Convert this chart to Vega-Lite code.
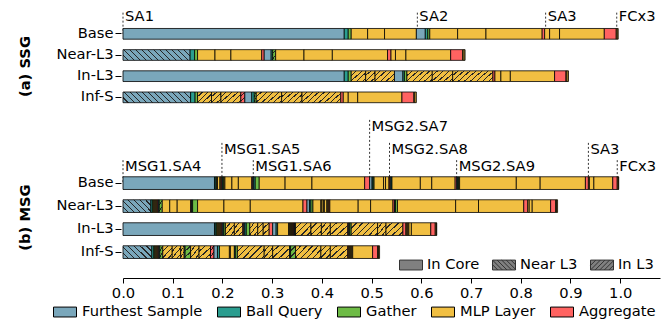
{
"$schema": "https://vega.github.io/schema/vega-lite/v6.json",
"padding": {"left": 17, "top": 8, "right": 5, "bottom": 2},
"config": {
 "font": "DejaVu Sans",
 "view": {"stroke": null},
 "axis": {"grid": false, "labelColor": "black", "titleColor": "black", "labelFontSize": 14.7, "titleFontSize": 14.7, "tickColor": "black", "domainColor": "black"}
},
"datasets": {
"ann": [
 {"p":"SSG","r":"L1","n":"SA1","x":0},
 {"p":"SSG","r":"L1","n":"SA2","x":0.592},
 {"p":"SSG","r":"L1","n":"SA3","x":0.850},
 {"p":"SSG","r":"L1","n":"FCx3","x":0.993},
 {"p":"MSG","r":"L1","n":"MSG1.SA4","x":0},
 {"p":"MSG","r":"L2","n":"MSG1.SA5","x":0.199},
 {"p":"MSG","r":"L1","n":"MSG1.SA6","x":0.262},
 {"p":"MSG","r":"L3","n":"MSG2.SA7","x":0.496},
 {"p":"MSG","r":"L2","n":"MSG2.SA8","x":0.536},
 {"p":"MSG","r":"L1","n":"MSG2.SA9","x":0.671},
 {"p":"MSG","r":"L2","n":"SA3","x":0.936},
 {"p":"MSG","r":"L1","n":"FCx3","x":0.994}
],
"segs": [
 {"p":"SSG","r":"Base","s":0,"e":0.445,"c":"Furthest Sample","t":"In Core"},
 {"p":"SSG","r":"Base","s":0.445,"e":0.453,"c":"Ball Query","t":"In Core"},
 {"p":"SSG","r":"Base","s":0.453,"e":0.459,"c":"Gather","t":"In Core"},
 {"p":"SSG","r":"Base","s":0.459,"e":0.492,"c":"MLP Layer","t":"In Core"},
 {"p":"SSG","r":"Base","s":0.492,"e":0.526,"c":"MLP Layer","t":"In Core"},
 {"p":"SSG","r":"Base","s":0.526,"e":0.590,"c":"MLP Layer","t":"In Core"},
 {"p":"SSG","r":"Base","s":0.590,"e":0.608,"c":"Furthest Sample","t":"In Core"},
 {"p":"SSG","r":"Base","s":0.608,"e":0.613,"c":"Ball Query","t":"In Core"},
 {"p":"SSG","r":"Base","s":0.613,"e":0.617,"c":"Gather","t":"In Core"},
 {"p":"SSG","r":"Base","s":0.617,"e":0.673,"c":"MLP Layer","t":"In Core"},
 {"p":"SSG","r":"Base","s":0.673,"e":0.730,"c":"MLP Layer","t":"In Core"},
 {"p":"SSG","r":"Base","s":0.730,"e":0.843,"c":"MLP Layer","t":"In Core"},
 {"p":"SSG","r":"Base","s":0.843,"e":0.848,"c":"Aggregate","t":"In Core"},
 {"p":"SSG","r":"Base","s":0.848,"e":0.858,"c":"MLP Layer","t":"In Core"},
 {"p":"SSG","r":"Base","s":0.858,"e":0.878,"c":"MLP Layer","t":"In Core"},
 {"p":"SSG","r":"Base","s":0.878,"e":0.968,"c":"MLP Layer","t":"In Core"},
 {"p":"SSG","r":"Base","s":0.968,"e":0.992,"c":"Aggregate","t":"In Core"},
 {"p":"SSG","r":"Base","s":0.992,"e":0.994,"c":"MLP Layer","t":"In Core"},
 {"p":"SSG","r":"Base","s":0.994,"e":0.996,"c":"MLP Layer","t":"In Core"},

 {"p":"SSG","r":"Near-L3","s":0,"e":0.135,"c":"Furthest Sample","t":"Near L3"},
 {"p":"SSG","r":"Near-L3","s":0.135,"e":0.144,"c":"Ball Query","t":"In Core"},
 {"p":"SSG","r":"Near-L3","s":0.144,"e":0.150,"c":"Gather","t":"In Core"},
 {"p":"SSG","r":"Near-L3","s":0.150,"e":0.185,"c":"MLP Layer","t":"In Core"},
 {"p":"SSG","r":"Near-L3","s":0.185,"e":0.217,"c":"MLP Layer","t":"In Core"},
 {"p":"SSG","r":"Near-L3","s":0.217,"e":0.279,"c":"MLP Layer","t":"In Core"},
 {"p":"SSG","r":"Near-L3","s":0.279,"e":0.284,"c":"Aggregate","t":"In Core"},
 {"p":"SSG","r":"Near-L3","s":0.284,"e":0.298,"c":"Furthest Sample","t":"In Core"},
 {"p":"SSG","r":"Near-L3","s":0.298,"e":0.301,"c":"Ball Query","t":"In Core"},
 {"p":"SSG","r":"Near-L3","s":0.301,"e":0.307,"c":"Gather","t":"In L3"},
 {"p":"SSG","r":"Near-L3","s":0.307,"e":0.364,"c":"MLP Layer","t":"In Core"},
 {"p":"SSG","r":"Near-L3","s":0.364,"e":0.421,"c":"MLP Layer","t":"In Core"},
 {"p":"SSG","r":"Near-L3","s":0.421,"e":0.532,"c":"MLP Layer","t":"In Core"},
 {"p":"SSG","r":"Near-L3","s":0.532,"e":0.539,"c":"Aggregate","t":"In Core"},
 {"p":"SSG","r":"Near-L3","s":0.539,"e":0.548,"c":"MLP Layer","t":"In Core"},
 {"p":"SSG","r":"Near-L3","s":0.548,"e":0.569,"c":"MLP Layer","t":"In Core"},
 {"p":"SSG","r":"Near-L3","s":0.569,"e":0.659,"c":"MLP Layer","t":"In Core"},
 {"p":"SSG","r":"Near-L3","s":0.659,"e":0.683,"c":"Aggregate","t":"In Core"},
 {"p":"SSG","r":"Near-L3","s":0.683,"e":0.686,"c":"MLP Layer","t":"In Core"},
 {"p":"SSG","r":"Near-L3","s":0.686,"e":0.688,"c":"MLP Layer","t":"In Core"},

 {"p":"SSG","r":"In-L3","s":0,"e":0.445,"c":"Furthest Sample","t":"In Core"},
 {"p":"SSG","r":"In-L3","s":0.445,"e":0.453,"c":"Ball Query","t":"In Core"},
 {"p":"SSG","r":"In-L3","s":0.453,"e":0.459,"c":"Gather","t":"In Core"},
 {"p":"SSG","r":"In-L3","s":0.459,"e":0.488,"c":"MLP Layer","t":"In L3"},
 {"p":"SSG","r":"In-L3","s":0.488,"e":0.507,"c":"MLP Layer","t":"In L3"},
 {"p":"SSG","r":"In-L3","s":0.507,"e":0.546,"c":"MLP Layer","t":"In L3"},
 {"p":"SSG","r":"In-L3","s":0.546,"e":0.563,"c":"Furthest Sample","t":"In Core"},
 {"p":"SSG","r":"In-L3","s":0.563,"e":0.566,"c":"Ball Query","t":"In Core"},
 {"p":"SSG","r":"In-L3","s":0.566,"e":0.571,"c":"Gather","t":"In Core"},
 {"p":"SSG","r":"In-L3","s":0.571,"e":0.622,"c":"MLP Layer","t":"In L3"},
 {"p":"SSG","r":"In-L3","s":0.622,"e":0.663,"c":"MLP Layer","t":"In L3"},
 {"p":"SSG","r":"In-L3","s":0.663,"e":0.744,"c":"MLP Layer","t":"In L3"},
 {"p":"SSG","r":"In-L3","s":0.744,"e":0.748,"c":"Aggregate","t":"In Core"},
 {"p":"SSG","r":"In-L3","s":0.748,"e":0.760,"c":"MLP Layer","t":"In Core"},
 {"p":"SSG","r":"In-L3","s":0.760,"e":0.779,"c":"MLP Layer","t":"In Core"},
 {"p":"SSG","r":"In-L3","s":0.779,"e":0.868,"c":"MLP Layer","t":"In Core"},
 {"p":"SSG","r":"In-L3","s":0.868,"e":0.891,"c":"Aggregate","t":"In Core"},
 {"p":"SSG","r":"In-L3","s":0.891,"e":0.893,"c":"MLP Layer","t":"In Core"},
 {"p":"SSG","r":"In-L3","s":0.893,"e":0.896,"c":"MLP Layer","t":"In Core"},

 {"p":"SSG","r":"Inf-S","s":0,"e":0.136,"c":"Furthest Sample","t":"Near L3"},
 {"p":"SSG","r":"Inf-S","s":0.136,"e":0.145,"c":"Ball Query","t":"In Core"},
 {"p":"SSG","r":"Inf-S","s":0.145,"e":0.150,"c":"Gather","t":"In Core"},
 {"p":"SSG","r":"Inf-S","s":0.150,"e":0.178,"c":"MLP Layer","t":"In L3"},
 {"p":"SSG","r":"Inf-S","s":0.178,"e":0.197,"c":"MLP Layer","t":"In L3"},
 {"p":"SSG","r":"Inf-S","s":0.197,"e":0.237,"c":"MLP Layer","t":"In L3"},
 {"p":"SSG","r":"Inf-S","s":0.237,"e":0.245,"c":"Aggregate","t":"In L3"},
 {"p":"SSG","r":"Inf-S","s":0.245,"e":0.259,"c":"Furthest Sample","t":"In Core"},
 {"p":"SSG","r":"Inf-S","s":0.259,"e":0.264,"c":"Ball Query","t":"In Core"},
 {"p":"SSG","r":"Inf-S","s":0.264,"e":0.268,"c":"Gather","t":"In L3"},
 {"p":"SSG","r":"Inf-S","s":0.268,"e":0.319,"c":"MLP Layer","t":"In L3"},
 {"p":"SSG","r":"Inf-S","s":0.319,"e":0.360,"c":"MLP Layer","t":"In L3"},
 {"p":"SSG","r":"Inf-S","s":0.360,"e":0.438,"c":"MLP Layer","t":"In L3"},
 {"p":"SSG","r":"Inf-S","s":0.438,"e":0.443,"c":"Aggregate","t":"In Core"},
 {"p":"SSG","r":"Inf-S","s":0.443,"e":0.453,"c":"MLP Layer","t":"In Core"},
 {"p":"SSG","r":"Inf-S","s":0.453,"e":0.472,"c":"MLP Layer","t":"In Core"},
 {"p":"SSG","r":"Inf-S","s":0.472,"e":0.561,"c":"MLP Layer","t":"In Core"},
 {"p":"SSG","r":"Inf-S","s":0.561,"e":0.585,"c":"Aggregate","t":"In Core"},
 {"p":"SSG","r":"Inf-S","s":0.585,"e":0.587,"c":"MLP Layer","t":"In Core"},
 {"p":"SSG","r":"Inf-S","s":0.587,"e":0.590,"c":"MLP Layer","t":"In Core"},

 {"p":"MSG","r":"Base","s":0,"e":0.184,"c":"Furthest Sample","t":"In Core"},
 {"p":"MSG","r":"Base","s":0.184,"e":0.187,"c":"Ball Query","t":"In Core"},
 {"p":"MSG","r":"Base","s":0.187,"e":0.1885,"c":"Gather","t":"In Core"},
 {"p":"MSG","r":"Base","s":0.1885,"e":0.190,"c":"MLP Layer","t":"In Core"},
 {"p":"MSG","r":"Base","s":0.190,"e":0.195,"c":"MLP Layer","t":"In Core"},
 {"p":"MSG","r":"Base","s":0.195,"e":0.197,"c":"MLP Layer","t":"In Core"},
 {"p":"MSG","r":"Base","s":0.197,"e":0.199,"c":"Aggregate","t":"In Core"},
 {"p":"MSG","r":"Base","s":0.199,"e":0.201,"c":"Ball Query","t":"In Core"},
 {"p":"MSG","r":"Base","s":0.201,"e":0.203,"c":"Gather","t":"In Core"},
 {"p":"MSG","r":"Base","s":0.203,"e":0.205,"c":"MLP Layer","t":"In Core"},
 {"p":"MSG","r":"Base","s":0.205,"e":0.219,"c":"MLP Layer","t":"In Core"},
 {"p":"MSG","r":"Base","s":0.219,"e":0.232,"c":"MLP Layer","t":"In Core"},
 {"p":"MSG","r":"Base","s":0.232,"e":0.259,"c":"MLP Layer","t":"In Core"},
 {"p":"MSG","r":"Base","s":0.259,"e":0.261,"c":"Aggregate","t":"In Core"},
 {"p":"MSG","r":"Base","s":0.261,"e":0.263,"c":"Furthest Sample","t":"In Core"},
 {"p":"MSG","r":"Base","s":0.263,"e":0.266,"c":"Ball Query","t":"In Core"},
 {"p":"MSG","r":"Base","s":0.266,"e":0.274,"c":"Gather","t":"In Core"},
 {"p":"MSG","r":"Base","s":0.274,"e":0.326,"c":"MLP Layer","t":"In Core"},
 {"p":"MSG","r":"Base","s":0.326,"e":0.380,"c":"MLP Layer","t":"In Core"},
 {"p":"MSG","r":"Base","s":0.380,"e":0.486,"c":"MLP Layer","t":"In Core"},
 {"p":"MSG","r":"Base","s":0.486,"e":0.496,"c":"Aggregate","t":"In Core"},
 {"p":"MSG","r":"Base","s":0.496,"e":0.501,"c":"Furthest Sample","t":"In Core"},
 {"p":"MSG","r":"Base","s":0.501,"e":0.503,"c":"Ball Query","t":"In Core"},
 {"p":"MSG","r":"Base","s":0.503,"e":0.505,"c":"Gather","t":"In Core"},
 {"p":"MSG","r":"Base","s":0.505,"e":0.524,"c":"MLP Layer","t":"In Core"},
 {"p":"MSG","r":"Base","s":0.524,"e":0.528,"c":"MLP Layer","t":"In Core"},
 {"p":"MSG","r":"Base","s":0.528,"e":0.535,"c":"MLP Layer","t":"In Core"},
 {"p":"MSG","r":"Base","s":0.535,"e":0.537,"c":"Aggregate","t":"In Core"},
 {"p":"MSG","r":"Base","s":0.537,"e":0.539,"c":"Furthest Sample","t":"In Core"},
 {"p":"MSG","r":"Base","s":0.539,"e":0.541,"c":"Ball Query","t":"In Core"},
 {"p":"MSG","r":"Base","s":0.541,"e":0.598,"c":"MLP Layer","t":"In Core"},
 {"p":"MSG","r":"Base","s":0.598,"e":0.621,"c":"MLP Layer","t":"In Core"},
 {"p":"MSG","r":"Base","s":0.621,"e":0.668,"c":"MLP Layer","t":"In Core"},
 {"p":"MSG","r":"Base","s":0.668,"e":0.671,"c":"Aggregate","t":"In Core"},
 {"p":"MSG","r":"Base","s":0.671,"e":0.673,"c":"Furthest Sample","t":"In Core"},
 {"p":"MSG","r":"Base","s":0.673,"e":0.675,"c":"Ball Query","t":"In Core"},
 {"p":"MSG","r":"Base","s":0.675,"e":0.677,"c":"Gather","t":"In Core"},
 {"p":"MSG","r":"Base","s":0.677,"e":0.791,"c":"MLP Layer","t":"In Core"},
 {"p":"MSG","r":"Base","s":0.791,"e":0.839,"c":"MLP Layer","t":"In Core"},
 {"p":"MSG","r":"Base","s":0.839,"e":0.930,"c":"MLP Layer","t":"In Core"},
 {"p":"MSG","r":"Base","s":0.930,"e":0.936,"c":"Aggregate","t":"In Core"},
 {"p":"MSG","r":"Base","s":0.936,"e":0.938,"c":"MLP Layer","t":"In Core"},
 {"p":"MSG","r":"Base","s":0.938,"e":0.947,"c":"MLP Layer","t":"In Core"},
 {"p":"MSG","r":"Base","s":0.947,"e":0.985,"c":"MLP Layer","t":"In Core"},
 {"p":"MSG","r":"Base","s":0.985,"e":0.994,"c":"Aggregate","t":"In Core"},
 {"p":"MSG","r":"Base","s":0.994,"e":0.996,"c":"MLP Layer","t":"In Core"},
 {"p":"MSG","r":"Base","s":0.996,"e":0.997,"c":"MLP Layer","t":"In Core"},

 {"p":"MSG","r":"Near-L3","s":0,"e":0.056,"c":"Furthest Sample","t":"Near L3"},
 {"p":"MSG","r":"Near-L3","s":0.056,"e":0.059,"c":"Ball Query","t":"In Core"},
 {"p":"MSG","r":"Near-L3","s":0.059,"e":0.061,"c":"Gather","t":"In Core"},
 {"p":"MSG","r":"Near-L3","s":0.061,"e":0.063,"c":"MLP Layer","t":"In Core"},
 {"p":"MSG","r":"Near-L3","s":0.063,"e":0.065,"c":"MLP Layer","t":"In Core"},
 {"p":"MSG","r":"Near-L3","s":0.065,"e":0.067,"c":"MLP Layer","t":"In Core"},
 {"p":"MSG","r":"Near-L3","s":0.067,"e":0.069,"c":"MLP Layer","t":"In Core"},
 {"p":"MSG","r":"Near-L3","s":0.069,"e":0.071,"c":"Aggregate","t":"In Core"},
 {"p":"MSG","r":"Near-L3","s":0.071,"e":0.073,"c":"Ball Query","t":"In Core"},
 {"p":"MSG","r":"Near-L3","s":0.073,"e":0.079,"c":"Gather","t":"In L3"},
 {"p":"MSG","r":"Near-L3","s":0.079,"e":0.094,"c":"MLP Layer","t":"In Core"},
 {"p":"MSG","r":"Near-L3","s":0.094,"e":0.109,"c":"MLP Layer","t":"In Core"},
 {"p":"MSG","r":"Near-L3","s":0.109,"e":0.136,"c":"MLP Layer","t":"In Core"},
 {"p":"MSG","r":"Near-L3","s":0.136,"e":0.138,"c":"Aggregate","t":"In Core"},
 {"p":"MSG","r":"Near-L3","s":0.138,"e":0.140,"c":"Ball Query","t":"In Core"},
 {"p":"MSG","r":"Near-L3","s":0.140,"e":0.150,"c":"Gather","t":"In Core"},
 {"p":"MSG","r":"Near-L3","s":0.150,"e":0.203,"c":"MLP Layer","t":"In Core"},
 {"p":"MSG","r":"Near-L3","s":0.203,"e":0.256,"c":"MLP Layer","t":"In Core"},
 {"p":"MSG","r":"Near-L3","s":0.256,"e":0.362,"c":"MLP Layer","t":"In Core"},
 {"p":"MSG","r":"Near-L3","s":0.362,"e":0.370,"c":"Aggregate","t":"In Core"},
 {"p":"MSG","r":"Near-L3","s":0.370,"e":0.375,"c":"Furthest Sample","t":"In Core"},
 {"p":"MSG","r":"Near-L3","s":0.375,"e":0.378,"c":"Ball Query","t":"In Core"},
 {"p":"MSG","r":"Near-L3","s":0.378,"e":0.382,"c":"Gather","t":"In Core"},
 {"p":"MSG","r":"Near-L3","s":0.382,"e":0.398,"c":"MLP Layer","t":"In Core"},
 {"p":"MSG","r":"Near-L3","s":0.398,"e":0.400,"c":"MLP Layer","t":"In Core"},
 {"p":"MSG","r":"Near-L3","s":0.400,"e":0.403,"c":"MLP Layer","t":"In Core"},
 {"p":"MSG","r":"Near-L3","s":0.403,"e":0.405,"c":"MLP Layer","t":"In Core"},
 {"p":"MSG","r":"Near-L3","s":0.405,"e":0.410,"c":"MLP Layer","t":"In Core"},
 {"p":"MSG","r":"Near-L3","s":0.410,"e":0.412,"c":"MLP Layer","t":"In Core"},
 {"p":"MSG","r":"Near-L3","s":0.412,"e":0.414,"c":"MLP Layer","t":"In Core"},
 {"p":"MSG","r":"Near-L3","s":0.414,"e":0.416,"c":"Aggregate","t":"In Core"},
 {"p":"MSG","r":"Near-L3","s":0.416,"e":0.473,"c":"MLP Layer","t":"In Core"},
 {"p":"MSG","r":"Near-L3","s":0.473,"e":0.498,"c":"MLP Layer","t":"In Core"},
 {"p":"MSG","r":"Near-L3","s":0.498,"e":0.543,"c":"MLP Layer","t":"In Core"},
 {"p":"MSG","r":"Near-L3","s":0.543,"e":0.546,"c":"Aggregate","t":"In Core"},
 {"p":"MSG","r":"Near-L3","s":0.546,"e":0.548,"c":"Ball Query","t":"In Core"},
 {"p":"MSG","r":"Near-L3","s":0.548,"e":0.552,"c":"Gather","t":"In Core"},
 {"p":"MSG","r":"Near-L3","s":0.552,"e":0.669,"c":"MLP Layer","t":"In Core"},
 {"p":"MSG","r":"Near-L3","s":0.669,"e":0.715,"c":"MLP Layer","t":"In Core"},
 {"p":"MSG","r":"Near-L3","s":0.715,"e":0.806,"c":"MLP Layer","t":"In Core"},
 {"p":"MSG","r":"Near-L3","s":0.806,"e":0.814,"c":"Aggregate","t":"In Core"},
 {"p":"MSG","r":"Near-L3","s":0.814,"e":0.817,"c":"MLP Layer","t":"In Core"},
 {"p":"MSG","r":"Near-L3","s":0.817,"e":0.823,"c":"MLP Layer","t":"In Core"},
 {"p":"MSG","r":"Near-L3","s":0.823,"e":0.860,"c":"MLP Layer","t":"In Core"},
 {"p":"MSG","r":"Near-L3","s":0.860,"e":0.870,"c":"Aggregate","t":"In Core"},
 {"p":"MSG","r":"Near-L3","s":0.870,"e":0.872,"c":"MLP Layer","t":"In Core"},
 {"p":"MSG","r":"Near-L3","s":0.872,"e":0.874,"c":"MLP Layer","t":"In Core"},

 {"p":"MSG","r":"In-L3","s":0,"e":0.184,"c":"Furthest Sample","t":"In Core"},
 {"p":"MSG","r":"In-L3","s":0.184,"e":0.187,"c":"Ball Query","t":"In Core"},
 {"p":"MSG","r":"In-L3","s":0.187,"e":0.189,"c":"Gather","t":"In Core"},
 {"p":"MSG","r":"In-L3","s":0.189,"e":0.191,"c":"MLP Layer","t":"In Core"},
 {"p":"MSG","r":"In-L3","s":0.191,"e":0.193,"c":"MLP Layer","t":"In Core"},
 {"p":"MSG","r":"In-L3","s":0.193,"e":0.195,"c":"MLP Layer","t":"In Core"},
 {"p":"MSG","r":"In-L3","s":0.195,"e":0.197,"c":"MLP Layer","t":"In Core"},
 {"p":"MSG","r":"In-L3","s":0.197,"e":0.199,"c":"Aggregate","t":"In Core"},
 {"p":"MSG","r":"In-L3","s":0.199,"e":0.201,"c":"Furthest Sample","t":"In Core"},
 {"p":"MSG","r":"In-L3","s":0.201,"e":0.203,"c":"Ball Query","t":"In Core"},
 {"p":"MSG","r":"In-L3","s":0.203,"e":0.206,"c":"Gather","t":"In Core"},
 {"p":"MSG","r":"In-L3","s":0.206,"e":0.224,"c":"MLP Layer","t":"In L3"},
 {"p":"MSG","r":"In-L3","s":0.224,"e":0.241,"c":"MLP Layer","t":"In L3"},
 {"p":"MSG","r":"In-L3","s":0.241,"e":0.243,"c":"Aggregate","t":"In Core"},
 {"p":"MSG","r":"In-L3","s":0.243,"e":0.245,"c":"Furthest Sample","t":"In Core"},
 {"p":"MSG","r":"In-L3","s":0.245,"e":0.248,"c":"Ball Query","t":"In Core"},
 {"p":"MSG","r":"In-L3","s":0.248,"e":0.255,"c":"Gather","t":"In Core"},
 {"p":"MSG","r":"In-L3","s":0.255,"e":0.271,"c":"MLP Layer","t":"In L3"},
 {"p":"MSG","r":"In-L3","s":0.271,"e":0.282,"c":"MLP Layer","t":"In L3"},
 {"p":"MSG","r":"In-L3","s":0.282,"e":0.294,"c":"MLP Layer","t":"In L3"},
 {"p":"MSG","r":"In-L3","s":0.294,"e":0.301,"c":"Aggregate","t":"In Core"},
 {"p":"MSG","r":"In-L3","s":0.301,"e":0.308,"c":"Furthest Sample","t":"In Core"},
 {"p":"MSG","r":"In-L3","s":0.308,"e":0.311,"c":"Ball Query","t":"In Core"},
 {"p":"MSG","r":"In-L3","s":0.311,"e":0.333,"c":"MLP Layer","t":"In Core"},
 {"p":"MSG","r":"In-L3","s":0.333,"e":0.335,"c":"MLP Layer","t":"In Core"},
 {"p":"MSG","r":"In-L3","s":0.335,"e":0.337,"c":"MLP Layer","t":"In Core"},
 {"p":"MSG","r":"In-L3","s":0.337,"e":0.339,"c":"MLP Layer","t":"In Core"},
 {"p":"MSG","r":"In-L3","s":0.339,"e":0.341,"c":"MLP Layer","t":"In Core"},
 {"p":"MSG","r":"In-L3","s":0.341,"e":0.343,"c":"MLP Layer","t":"In Core"},
 {"p":"MSG","r":"In-L3","s":0.343,"e":0.345,"c":"Aggregate","t":"In Core"},
 {"p":"MSG","r":"In-L3","s":0.345,"e":0.347,"c":"Ball Query","t":"In Core"},
 {"p":"MSG","r":"In-L3","s":0.347,"e":0.378,"c":"MLP Layer","t":"In L3"},
 {"p":"MSG","r":"In-L3","s":0.378,"e":0.399,"c":"MLP Layer","t":"In L3"},
 {"p":"MSG","r":"In-L3","s":0.399,"e":0.417,"c":"MLP Layer","t":"In L3"},
 {"p":"MSG","r":"In-L3","s":0.417,"e":0.452,"c":"MLP Layer","t":"In L3"},
 {"p":"MSG","r":"In-L3","s":0.452,"e":0.454,"c":"Aggregate","t":"In Core"},
 {"p":"MSG","r":"In-L3","s":0.454,"e":0.456,"c":"Ball Query","t":"In Core"},
 {"p":"MSG","r":"In-L3","s":0.456,"e":0.459,"c":"Gather","t":"In Core"},
 {"p":"MSG","r":"In-L3","s":0.459,"e":0.512,"c":"MLP Layer","t":"In L3"},
 {"p":"MSG","r":"In-L3","s":0.512,"e":0.529,"c":"MLP Layer","t":"In L3"},
 {"p":"MSG","r":"In-L3","s":0.529,"e":0.563,"c":"MLP Layer","t":"In L3"},
 {"p":"MSG","r":"In-L3","s":0.563,"e":0.569,"c":"Aggregate","t":"In Core"},
 {"p":"MSG","r":"In-L3","s":0.569,"e":0.571,"c":"MLP Layer","t":"In Core"},
 {"p":"MSG","r":"In-L3","s":0.571,"e":0.573,"c":"MLP Layer","t":"In Core"},
 {"p":"MSG","r":"In-L3","s":0.573,"e":0.575,"c":"MLP Layer","t":"In Core"},
 {"p":"MSG","r":"In-L3","s":0.575,"e":0.580,"c":"MLP Layer","t":"In Core"},
 {"p":"MSG","r":"In-L3","s":0.580,"e":0.619,"c":"MLP Layer","t":"In Core"},
 {"p":"MSG","r":"In-L3","s":0.619,"e":0.628,"c":"Aggregate","t":"In Core"},
 {"p":"MSG","r":"In-L3","s":0.628,"e":0.630,"c":"MLP Layer","t":"In Core"},
 {"p":"MSG","r":"In-L3","s":0.630,"e":0.631,"c":"MLP Layer","t":"In Core"},

 {"p":"MSG","r":"Inf-S","s":0,"e":0.058,"c":"Furthest Sample","t":"Near L3"},
 {"p":"MSG","r":"Inf-S","s":0.058,"e":0.062,"c":"Ball Query","t":"In Core"},
 {"p":"MSG","r":"Inf-S","s":0.062,"e":0.064,"c":"Gather","t":"In Core"},
 {"p":"MSG","r":"Inf-S","s":0.064,"e":0.066,"c":"MLP Layer","t":"In Core"},
 {"p":"MSG","r":"Inf-S","s":0.066,"e":0.068,"c":"MLP Layer","t":"In Core"},
 {"p":"MSG","r":"Inf-S","s":0.068,"e":0.070,"c":"MLP Layer","t":"In Core"},
 {"p":"MSG","r":"Inf-S","s":0.070,"e":0.072,"c":"Aggregate","t":"In Core"},
 {"p":"MSG","r":"Inf-S","s":0.072,"e":0.074,"c":"Ball Query","t":"In Core"},
 {"p":"MSG","r":"Inf-S","s":0.074,"e":0.080,"c":"Gather","t":"In L3"},
 {"p":"MSG","r":"Inf-S","s":0.080,"e":0.099,"c":"MLP Layer","t":"In L3"},
 {"p":"MSG","r":"Inf-S","s":0.099,"e":0.116,"c":"MLP Layer","t":"In L3"},
 {"p":"MSG","r":"Inf-S","s":0.116,"e":0.123,"c":"MLP Layer","t":"In L3"},
 {"p":"MSG","r":"Inf-S","s":0.123,"e":0.125,"c":"Ball Query","t":"In Core"},
 {"p":"MSG","r":"Inf-S","s":0.125,"e":0.136,"c":"Gather","t":"In L3"},
 {"p":"MSG","r":"Inf-S","s":0.136,"e":0.153,"c":"MLP Layer","t":"In L3"},
 {"p":"MSG","r":"Inf-S","s":0.153,"e":0.176,"c":"MLP Layer","t":"In L3"},
 {"p":"MSG","r":"Inf-S","s":0.176,"e":0.183,"c":"Aggregate","t":"In L3"},
 {"p":"MSG","r":"Inf-S","s":0.183,"e":0.190,"c":"Furthest Sample","t":"In Core"},
 {"p":"MSG","r":"Inf-S","s":0.190,"e":0.194,"c":"Ball Query","t":"In Core"},
 {"p":"MSG","r":"Inf-S","s":0.194,"e":0.214,"c":"MLP Layer","t":"In Core"},
 {"p":"MSG","r":"Inf-S","s":0.214,"e":0.216,"c":"MLP Layer","t":"In Core"},
 {"p":"MSG","r":"Inf-S","s":0.216,"e":0.224,"c":"MLP Layer","t":"In Core"},
 {"p":"MSG","r":"Inf-S","s":0.224,"e":0.226,"c":"Ball Query","t":"In Core"},
 {"p":"MSG","r":"Inf-S","s":0.226,"e":0.230,"c":"Gather","t":"In Core"},
 {"p":"MSG","r":"Inf-S","s":0.230,"e":0.284,"c":"MLP Layer","t":"In L3"},
 {"p":"MSG","r":"Inf-S","s":0.284,"e":0.301,"c":"MLP Layer","t":"In L3"},
 {"p":"MSG","r":"Inf-S","s":0.301,"e":0.335,"c":"MLP Layer","t":"In L3"},
 {"p":"MSG","r":"Inf-S","s":0.335,"e":0.337,"c":"Ball Query","t":"In Core"},
 {"p":"MSG","r":"Inf-S","s":0.337,"e":0.347,"c":"Gather","t":"In L3"},
 {"p":"MSG","r":"Inf-S","s":0.347,"e":0.398,"c":"MLP Layer","t":"In L3"},
 {"p":"MSG","r":"Inf-S","s":0.398,"e":0.417,"c":"MLP Layer","t":"In L3"},
 {"p":"MSG","r":"Inf-S","s":0.417,"e":0.452,"c":"MLP Layer","t":"In L3"},
 {"p":"MSG","r":"Inf-S","s":0.452,"e":0.454,"c":"Aggregate","t":"In Core"},
 {"p":"MSG","r":"Inf-S","s":0.454,"e":0.456,"c":"MLP Layer","t":"In Core"},
 {"p":"MSG","r":"Inf-S","s":0.456,"e":0.458,"c":"MLP Layer","t":"In Core"},
 {"p":"MSG","r":"Inf-S","s":0.458,"e":0.460,"c":"MLP Layer","t":"In Core"},
 {"p":"MSG","r":"Inf-S","s":0.460,"e":0.462,"c":"MLP Layer","t":"In Core"},
 {"p":"MSG","r":"Inf-S","s":0.462,"e":0.502,"c":"MLP Layer","t":"In Core"},
 {"p":"MSG","r":"Inf-S","s":0.502,"e":0.512,"c":"Aggregate","t":"In Core"},
 {"p":"MSG","r":"Inf-S","s":0.512,"e":0.514,"c":"MLP Layer","t":"In Core"},
 {"p":"MSG","r":"Inf-S","s":0.514,"e":0.516,"c":"MLP Layer","t":"In Core"}
]
},
"spacing": 13,
"resolve": {"scale": {"y": "independent", "x": "shared", "shape": "independent", "stroke": "independent"}, "legend": {"shape": "independent", "stroke": "independent"}},
"vconcat": [
{
 "width": 537, "height": 90,
 "encoding": {"y": {"field": "r", "type": "nominal",
   "scale": {"domain": ["L1","a3","a2","a1","Base","b1","b2","b3","Near-L3","b4","b5","b6","In-L3","b7","b8","b9","Inf-S"], "paddingInner": 0, "paddingOuter": 0},
   "axis": {"title": "(a) SSG", "values": ["Base","Near-L3","In-L3","Inf-S"], "domain": false, "tickSize": 6, "offset": 2, "labelPadding": 2, "titleFontWeight": "bold", "titleY": 56, "titlePadding": 24}}},
 "layer": [
  {"data": {"name": "ann"}, "transform": [{"filter": "datum.p=='SSG'"}],
   "mark": {"type": "rule", "strokeDash": [2,2], "strokeWidth": 0.8, "color": "black"},
   "encoding": {"x": {"field": "x", "type": "quantitative", "scale": {"domain": [0,1.08], "nice": false}, "axis": null}, "y2": {"datum": "Base"}}},
  {"data": {"name": "segs"}, "transform": [{"filter": "datum.p=='SSG'"}],
   "mark": {"type": "bar", "height": 10.7, "stroke": "black", "strokeWidth": 0.8},
   "encoding": {
    "x": {"field": "s", "type": "quantitative", "scale": {"domain": [0,1.08], "nice": false}, "axis": null},
    "x2": {"field": "e"},
    "fill": {"field": "c", "type": "nominal",
     "scale": {"domain": ["Furthest Sample","Ball Query","Gather","MLP Layer","Aggregate"], "range": ["#7aa7bb","#2a9d8f","#6dbb45","#f1bf42","#ff6361"]},
     "legend": {"title": null, "orient": "none", "legendX": -70, "legendY": 290, "direction": "horizontal", "columns": 5, "symbolType": "M-1,-0.43H1V0.43H-1Z", "symbolSize": 529, "symbolStrokeColor": "black", "symbolStrokeWidth": 1, "labelFontSize": 14.7, "labelColor": "black", "labelOffset": 5, "columnPadding": 12},
     "condition": [
      {"test": "datum.t=='Near L3' && datum.e-datum.s>=0.1", "value": {"gradient": "linear", "x1": 0, "y1": 1, "x2": 1.13, "y2": 0.821, "stops": [{"offset":0,"color":"#7aa7bb"},{"offset":0.06,"color":"#7aa7bb"},{"offset":0.06,"color":"#262626"},{"offset":0.0769,"color":"#262626"},{"offset":0.0769,"color":"#7aa7bb"},{"offset":0.1369,"color":"#7aa7bb"},{"offset":0.1369,"color":"#262626"},{"offset":0.1538,"color":"#262626"},{"offset":0.1538,"color":"#7aa7bb"},{"offset":0.2138,"color":"#7aa7bb"},{"offset":0.2138,"color":"#262626"},{"offset":0.2307,"color":"#262626"},{"offset":0.2307,"color":"#7aa7bb"},{"offset":0.2907,"color":"#7aa7bb"},{"offset":0.2907,"color":"#262626"},{"offset":0.3076,"color":"#262626"},{"offset":0.3076,"color":"#7aa7bb"},{"offset":0.3676,"color":"#7aa7bb"},{"offset":0.3676,"color":"#262626"},{"offset":0.3845,"color":"#262626"},{"offset":0.3845,"color":"#7aa7bb"},{"offset":0.4445,"color":"#7aa7bb"},{"offset":0.4445,"color":"#262626"},{"offset":0.4614,"color":"#262626"},{"offset":0.4614,"color":"#7aa7bb"},{"offset":0.5214,"color":"#7aa7bb"},{"offset":0.5214,"color":"#262626"},{"offset":0.5383,"color":"#262626"},{"offset":0.5383,"color":"#7aa7bb"},{"offset":0.5983,"color":"#7aa7bb"},{"offset":0.5983,"color":"#262626"},{"offset":0.6152,"color":"#262626"},{"offset":0.6152,"color":"#7aa7bb"},{"offset":0.6752,"color":"#7aa7bb"},{"offset":0.6752,"color":"#262626"},{"offset":0.6921,"color":"#262626"},{"offset":0.6921,"color":"#7aa7bb"},{"offset":0.7521,"color":"#7aa7bb"},{"offset":0.7521,"color":"#262626"},{"offset":0.769,"color":"#262626"},{"offset":0.769,"color":"#7aa7bb"},{"offset":0.829,"color":"#7aa7bb"},{"offset":0.829,"color":"#262626"},{"offset":0.8459,"color":"#262626"},{"offset":0.8459,"color":"#7aa7bb"},{"offset":0.9059,"color":"#7aa7bb"},{"offset":0.9059,"color":"#262626"},{"offset":0.9228,"color":"#262626"},{"offset":0.9228,"color":"#7aa7bb"},{"offset":1,"color":"#7aa7bb"}]}},
      {"test": "datum.t=='Near L3'", "value": {"gradient": "linear", "x1": 0, "y1": 1, "x2": 1.2055, "y2": 0.4532, "stops": [{"offset":0,"color":"#7aa7bb"},{"offset":0.1147,"color":"#7aa7bb"},{"offset":0.1147,"color":"#262626"},{"offset":0.1471,"color":"#262626"},{"offset":0.1471,"color":"#7aa7bb"},{"offset":0.2618,"color":"#7aa7bb"},{"offset":0.2618,"color":"#262626"},{"offset":0.2942,"color":"#262626"},{"offset":0.2942,"color":"#7aa7bb"},{"offset":0.4089,"color":"#7aa7bb"},{"offset":0.4089,"color":"#262626"},{"offset":0.4413,"color":"#262626"},{"offset":0.4413,"color":"#7aa7bb"},{"offset":0.556,"color":"#7aa7bb"},{"offset":0.556,"color":"#262626"},{"offset":0.5884,"color":"#262626"},{"offset":0.5884,"color":"#7aa7bb"},{"offset":0.7031,"color":"#7aa7bb"},{"offset":0.7031,"color":"#262626"},{"offset":0.7355,"color":"#262626"},{"offset":0.7355,"color":"#7aa7bb"},{"offset":0.8502,"color":"#7aa7bb"},{"offset":0.8502,"color":"#262626"},{"offset":0.8826,"color":"#262626"},{"offset":0.8826,"color":"#7aa7bb"},{"offset":1,"color":"#7aa7bb"}]}},
      {"test": "datum.t=='In L3' && datum.c=='Gather'", "value": {"gradient": "linear", "x1": 0, "y1": 0, "x2": 0.503, "y2": 1.207, "stops": [{"offset":0,"color":"#6dbb45"},{"offset":0.26,"color":"#6dbb45"},{"offset":0.26,"color":"#262626"},{"offset":0.3333,"color":"#262626"},{"offset":0.3333,"color":"#6dbb45"},{"offset":0.5933,"color":"#6dbb45"},{"offset":0.5933,"color":"#262626"},{"offset":0.6667,"color":"#262626"},{"offset":0.6667,"color":"#6dbb45"},{"offset":0.9267,"color":"#6dbb45"},{"offset":0.9267,"color":"#262626"},{"offset":1,"color":"#262626"}]}},
      {"test": "datum.t=='In L3' && datum.c=='Aggregate'", "value": {"gradient": "linear", "x1": 0, "y1": 0, "x2": 0.503, "y2": 1.207, "stops": [{"offset":0,"color":"#ff6361"},{"offset":0.26,"color":"#ff6361"},{"offset":0.26,"color":"#262626"},{"offset":0.3333,"color":"#262626"},{"offset":0.3333,"color":"#ff6361"},{"offset":0.5933,"color":"#ff6361"},{"offset":0.5933,"color":"#262626"},{"offset":0.6667,"color":"#262626"},{"offset":0.6667,"color":"#ff6361"},{"offset":0.9267,"color":"#ff6361"},{"offset":0.9267,"color":"#262626"},{"offset":1,"color":"#262626"}]}},
      {"test": "datum.t=='In L3' && datum.e-datum.s<0.014", "value": {"gradient": "linear", "x1": 0, "y1": 0, "x2": 0.503, "y2": 1.207, "stops": [{"offset":0,"color":"#f1bf42"},{"offset":0.26,"color":"#f1bf42"},{"offset":0.26,"color":"#262626"},{"offset":0.3333,"color":"#262626"},{"offset":0.3333,"color":"#f1bf42"},{"offset":0.5933,"color":"#f1bf42"},{"offset":0.5933,"color":"#262626"},{"offset":0.6667,"color":"#262626"},{"offset":0.6667,"color":"#f1bf42"},{"offset":0.9267,"color":"#f1bf42"},{"offset":0.9267,"color":"#262626"},{"offset":1,"color":"#262626"}]}},
      {"test": "datum.t=='In L3' && datum.e-datum.s<0.024", "value": {"gradient": "linear", "x1": 0, "y1": 0, "x2": 0.872, "y2": 1.101, "stops": [{"offset":0,"color":"#f1bf42"},{"offset":0.2167,"color":"#f1bf42"},{"offset":0.2167,"color":"#262626"},{"offset":0.2778,"color":"#262626"},{"offset":0.2778,"color":"#f1bf42"},{"offset":0.4944,"color":"#f1bf42"},{"offset":0.4944,"color":"#262626"},{"offset":0.5556,"color":"#262626"},{"offset":0.5556,"color":"#f1bf42"},{"offset":0.7722,"color":"#f1bf42"},{"offset":0.7722,"color":"#262626"},{"offset":0.8333,"color":"#262626"},{"offset":0.8333,"color":"#f1bf42"},{"offset":1,"color":"#f1bf42"}]}},
      {"test": "datum.t=='In L3' && datum.e-datum.s<0.036", "value": {"gradient": "linear", "x1": 0, "y1": 0, "x2": 1.098, "y2": 0.878, "stops": [{"offset":0,"color":"#f1bf42"},{"offset":0.1733,"color":"#f1bf42"},{"offset":0.1733,"color":"#262626"},{"offset":0.2222,"color":"#262626"},{"offset":0.2222,"color":"#f1bf42"},{"offset":0.3956,"color":"#f1bf42"},{"offset":0.3956,"color":"#262626"},{"offset":0.4444,"color":"#262626"},{"offset":0.4444,"color":"#f1bf42"},{"offset":0.6178,"color":"#f1bf42"},{"offset":0.6178,"color":"#262626"},{"offset":0.6667,"color":"#262626"},{"offset":0.6667,"color":"#f1bf42"},{"offset":0.84,"color":"#f1bf42"},{"offset":0.84,"color":"#262626"},{"offset":0.8889,"color":"#262626"},{"offset":0.8889,"color":"#f1bf42"},{"offset":1,"color":"#f1bf42"}]}},
      {"test": "datum.t=='In L3' && datum.e-datum.s<0.046", "value": {"gradient": "linear", "x1": 0, "y1": 0, "x2": 1.181, "y2": 0.691, "stops": [{"offset":0,"color":"#f1bf42"},{"offset":0.1445,"color":"#f1bf42"},{"offset":0.1445,"color":"#262626"},{"offset":0.1852,"color":"#262626"},{"offset":0.1852,"color":"#f1bf42"},{"offset":0.3297,"color":"#f1bf42"},{"offset":0.3297,"color":"#262626"},{"offset":0.3704,"color":"#262626"},{"offset":0.3704,"color":"#f1bf42"},{"offset":0.5149,"color":"#f1bf42"},{"offset":0.5149,"color":"#262626"},{"offset":0.5556,"color":"#262626"},{"offset":0.5556,"color":"#f1bf42"},{"offset":0.7001,"color":"#f1bf42"},{"offset":0.7001,"color":"#262626"},{"offset":0.7407,"color":"#262626"},{"offset":0.7407,"color":"#f1bf42"},{"offset":0.8853,"color":"#f1bf42"},{"offset":0.8853,"color":"#262626"},{"offset":0.9259,"color":"#262626"},{"offset":0.9259,"color":"#f1bf42"},{"offset":1,"color":"#f1bf42"}]}},
      {"test": "datum.t=='In L3' && datum.e-datum.s<0.064", "value": {"gradient": "linear", "x1": 0, "y1": 0, "x2": 1.205, "y2": 0.556, "stops": [{"offset":0,"color":"#f1bf42"},{"offset":0.1238,"color":"#f1bf42"},{"offset":0.1238,"color":"#262626"},{"offset":0.1587,"color":"#262626"},{"offset":0.1587,"color":"#f1bf42"},{"offset":0.2825,"color":"#f1bf42"},{"offset":0.2825,"color":"#262626"},{"offset":0.3175,"color":"#262626"},{"offset":0.3175,"color":"#f1bf42"},{"offset":0.4412,"color":"#f1bf42"},{"offset":0.4412,"color":"#262626"},{"offset":0.4762,"color":"#262626"},{"offset":0.4762,"color":"#f1bf42"},{"offset":0.5999,"color":"#f1bf42"},{"offset":0.5999,"color":"#262626"},{"offset":0.6349,"color":"#262626"},{"offset":0.6349,"color":"#f1bf42"},{"offset":0.7586,"color":"#f1bf42"},{"offset":0.7586,"color":"#262626"},{"offset":0.7937,"color":"#262626"},{"offset":0.7937,"color":"#f1bf42"},{"offset":0.9173,"color":"#f1bf42"},{"offset":0.9173,"color":"#262626"},{"offset":0.9524,"color":"#262626"},{"offset":0.9524,"color":"#f1bf42"},{"offset":1,"color":"#f1bf42"}]}},
      {"test": "datum.t=='In L3'", "value": {"gradient": "linear", "x1": 0, "y1": 0, "x2": 1.193, "y2": 0.358, "stops": [{"offset":0,"color":"#f1bf42"},{"offset":0.0896,"color":"#f1bf42"},{"offset":0.0896,"color":"#262626"},{"offset":0.1149,"color":"#262626"},{"offset":0.1149,"color":"#f1bf42"},{"offset":0.2045,"color":"#f1bf42"},{"offset":0.2045,"color":"#262626"},{"offset":0.2298,"color":"#262626"},{"offset":0.2298,"color":"#f1bf42"},{"offset":0.3194,"color":"#f1bf42"},{"offset":0.3194,"color":"#262626"},{"offset":0.3447,"color":"#262626"},{"offset":0.3447,"color":"#f1bf42"},{"offset":0.4343,"color":"#f1bf42"},{"offset":0.4343,"color":"#262626"},{"offset":0.4596,"color":"#262626"},{"offset":0.4596,"color":"#f1bf42"},{"offset":0.5492,"color":"#f1bf42"},{"offset":0.5492,"color":"#262626"},{"offset":0.5745,"color":"#262626"},{"offset":0.5745,"color":"#f1bf42"},{"offset":0.6641,"color":"#f1bf42"},{"offset":0.6641,"color":"#262626"},{"offset":0.6894,"color":"#262626"},{"offset":0.6894,"color":"#f1bf42"},{"offset":0.779,"color":"#f1bf42"},{"offset":0.779,"color":"#262626"},{"offset":0.8043,"color":"#262626"},{"offset":0.8043,"color":"#f1bf42"},{"offset":0.8939,"color":"#f1bf42"},{"offset":0.8939,"color":"#262626"},{"offset":0.9192,"color":"#262626"},{"offset":0.9192,"color":"#f1bf42"},{"offset":1,"color":"#f1bf42"}]}}
     ]}
   }},
  {"data": {"name": "ann"}, "transform": [{"filter": "datum.p=='SSG'"}],
   "mark": {"type": "text", "align": "left", "baseline": "top", "dx": 2, "dy": -4, "fontSize": 14.7, "color": "black"},
   "encoding": {"x": {"field": "x", "type": "quantitative", "scale": {"domain": [0,1.08], "nice": false}, "axis": null}, "text": {"field": "n"}}}
 ]
},
{
 "width": 537, "height": 161,
 "encoding": {"y": {"field": "r", "type": "nominal",
   "scale": {"domain": ["L3","c10","c9","c8","L2","c6","c5","L1","c3","c2","c1","Base","d1","d2","d3","Near-L3","d4","d5","d6","In-L3","d7","d8","d9","Inf-S","f1","f2","f3","f4"], "paddingInner": 0, "paddingOuter": 0},
   "axis": {"title": "(b) MSG", "values": ["Base","Near-L3","In-L3","Inf-S"], "domain": false, "tickSize": 6, "offset": 2, "labelPadding": 2, "titleFontWeight": "bold", "titleY": 100, "titlePadding": 24}}},
 "layer": [
  {"data": {"name": "ann"}, "transform": [{"filter": "datum.p=='MSG'"}],
   "mark": {"type": "rule", "strokeDash": [2,2], "strokeWidth": 0.8, "color": "black"},
   "encoding": {"x": {"field": "x", "type": "quantitative", "scale": {"domain": [0,1.08], "nice": false},
      "axis": {"title": null, "values": [0,0.1,0.2,0.3,0.4,0.5,0.6,0.7,0.8,0.9,1.0], "format": ".1f", "tickSize": 5, "labelPadding": 2, "domainWidth": 1, "tickWidth": 1, "labelFlush": false}}, "y2": {"datum": "Base"}}},
  {"data": {"name": "segs"}, "transform": [{"filter": "datum.p=='MSG'"}],
   "mark": {"type": "bar", "height": 12.7, "stroke": "black", "strokeWidth": 0.8},
   "encoding": {
    "x": {"field": "s", "type": "quantitative", "scale": {"domain": [0,1.08], "nice": false},
      "axis": {"title": null, "values": [0,0.1,0.2,0.3,0.4,0.5,0.6,0.7,0.8,0.9,1.0], "format": ".1f", "tickSize": 5, "labelPadding": 2, "domainWidth": 1, "tickWidth": 1, "labelFlush": false}},
    "x2": {"field": "e"},
    "fill": {"field": "c", "type": "nominal",
     "scale": {"domain": ["Furthest Sample","Ball Query","Gather","MLP Layer","Aggregate"], "range": ["#7aa7bb","#2a9d8f","#6dbb45","#f1bf42","#ff6361"]},
     "legend": {"title": null, "orient": "none", "legendX": -70, "legendY": 290, "direction": "horizontal", "columns": 5, "symbolType": "M-1,-0.43H1V0.43H-1Z", "symbolSize": 529, "symbolStrokeColor": "black", "symbolStrokeWidth": 1, "labelFontSize": 14.7, "labelColor": "black", "labelOffset": 5, "columnPadding": 12},
     "condition": [
      {"test": "datum.t=='Near L3'", "value": {"gradient": "linear", "x1": 0, "y1": 1, "x2": 1.2055, "y2": 0.4532, "stops": [{"offset":0,"color":"#7aa7bb"},{"offset":0.1147,"color":"#7aa7bb"},{"offset":0.1147,"color":"#262626"},{"offset":0.1471,"color":"#262626"},{"offset":0.1471,"color":"#7aa7bb"},{"offset":0.2618,"color":"#7aa7bb"},{"offset":0.2618,"color":"#262626"},{"offset":0.2942,"color":"#262626"},{"offset":0.2942,"color":"#7aa7bb"},{"offset":0.4089,"color":"#7aa7bb"},{"offset":0.4089,"color":"#262626"},{"offset":0.4413,"color":"#262626"},{"offset":0.4413,"color":"#7aa7bb"},{"offset":0.556,"color":"#7aa7bb"},{"offset":0.556,"color":"#262626"},{"offset":0.5884,"color":"#262626"},{"offset":0.5884,"color":"#7aa7bb"},{"offset":0.7031,"color":"#7aa7bb"},{"offset":0.7031,"color":"#262626"},{"offset":0.7355,"color":"#262626"},{"offset":0.7355,"color":"#7aa7bb"},{"offset":0.8502,"color":"#7aa7bb"},{"offset":0.8502,"color":"#262626"},{"offset":0.8826,"color":"#262626"},{"offset":0.8826,"color":"#7aa7bb"},{"offset":1,"color":"#7aa7bb"}]}},
      {"test": "datum.t=='In L3' && datum.c=='Gather'", "value": {"gradient": "linear", "x1": 0, "y1": 0, "x2": 0.503, "y2": 1.207, "stops": [{"offset":0,"color":"#6dbb45"},{"offset":0.26,"color":"#6dbb45"},{"offset":0.26,"color":"#262626"},{"offset":0.3333,"color":"#262626"},{"offset":0.3333,"color":"#6dbb45"},{"offset":0.5933,"color":"#6dbb45"},{"offset":0.5933,"color":"#262626"},{"offset":0.6667,"color":"#262626"},{"offset":0.6667,"color":"#6dbb45"},{"offset":0.9267,"color":"#6dbb45"},{"offset":0.9267,"color":"#262626"},{"offset":1,"color":"#262626"}]}},
      {"test": "datum.t=='In L3' && datum.c=='Aggregate'", "value": {"gradient": "linear", "x1": 0, "y1": 0, "x2": 0.503, "y2": 1.207, "stops": [{"offset":0,"color":"#ff6361"},{"offset":0.26,"color":"#ff6361"},{"offset":0.26,"color":"#262626"},{"offset":0.3333,"color":"#262626"},{"offset":0.3333,"color":"#ff6361"},{"offset":0.5933,"color":"#ff6361"},{"offset":0.5933,"color":"#262626"},{"offset":0.6667,"color":"#262626"},{"offset":0.6667,"color":"#ff6361"},{"offset":0.9267,"color":"#ff6361"},{"offset":0.9267,"color":"#262626"},{"offset":1,"color":"#262626"}]}},
      {"test": "datum.t=='In L3' && datum.e-datum.s<0.014", "value": {"gradient": "linear", "x1": 0, "y1": 0, "x2": 0.503, "y2": 1.207, "stops": [{"offset":0,"color":"#f1bf42"},{"offset":0.26,"color":"#f1bf42"},{"offset":0.26,"color":"#262626"},{"offset":0.3333,"color":"#262626"},{"offset":0.3333,"color":"#f1bf42"},{"offset":0.5933,"color":"#f1bf42"},{"offset":0.5933,"color":"#262626"},{"offset":0.6667,"color":"#262626"},{"offset":0.6667,"color":"#f1bf42"},{"offset":0.9267,"color":"#f1bf42"},{"offset":0.9267,"color":"#262626"},{"offset":1,"color":"#262626"}]}},
      {"test": "datum.t=='In L3' && datum.e-datum.s<0.024", "value": {"gradient": "linear", "x1": 0, "y1": 0, "x2": 0.872, "y2": 1.101, "stops": [{"offset":0,"color":"#f1bf42"},{"offset":0.2167,"color":"#f1bf42"},{"offset":0.2167,"color":"#262626"},{"offset":0.2778,"color":"#262626"},{"offset":0.2778,"color":"#f1bf42"},{"offset":0.4944,"color":"#f1bf42"},{"offset":0.4944,"color":"#262626"},{"offset":0.5556,"color":"#262626"},{"offset":0.5556,"color":"#f1bf42"},{"offset":0.7722,"color":"#f1bf42"},{"offset":0.7722,"color":"#262626"},{"offset":0.8333,"color":"#262626"},{"offset":0.8333,"color":"#f1bf42"},{"offset":1,"color":"#f1bf42"}]}},
      {"test": "datum.t=='In L3' && datum.e-datum.s<0.036", "value": {"gradient": "linear", "x1": 0, "y1": 0, "x2": 1.098, "y2": 0.878, "stops": [{"offset":0,"color":"#f1bf42"},{"offset":0.1733,"color":"#f1bf42"},{"offset":0.1733,"color":"#262626"},{"offset":0.2222,"color":"#262626"},{"offset":0.2222,"color":"#f1bf42"},{"offset":0.3956,"color":"#f1bf42"},{"offset":0.3956,"color":"#262626"},{"offset":0.4444,"color":"#262626"},{"offset":0.4444,"color":"#f1bf42"},{"offset":0.6178,"color":"#f1bf42"},{"offset":0.6178,"color":"#262626"},{"offset":0.6667,"color":"#262626"},{"offset":0.6667,"color":"#f1bf42"},{"offset":0.84,"color":"#f1bf42"},{"offset":0.84,"color":"#262626"},{"offset":0.8889,"color":"#262626"},{"offset":0.8889,"color":"#f1bf42"},{"offset":1,"color":"#f1bf42"}]}},
      {"test": "datum.t=='In L3' && datum.e-datum.s<0.046", "value": {"gradient": "linear", "x1": 0, "y1": 0, "x2": 1.181, "y2": 0.691, "stops": [{"offset":0,"color":"#f1bf42"},{"offset":0.1445,"color":"#f1bf42"},{"offset":0.1445,"color":"#262626"},{"offset":0.1852,"color":"#262626"},{"offset":0.1852,"color":"#f1bf42"},{"offset":0.3297,"color":"#f1bf42"},{"offset":0.3297,"color":"#262626"},{"offset":0.3704,"color":"#262626"},{"offset":0.3704,"color":"#f1bf42"},{"offset":0.5149,"color":"#f1bf42"},{"offset":0.5149,"color":"#262626"},{"offset":0.5556,"color":"#262626"},{"offset":0.5556,"color":"#f1bf42"},{"offset":0.7001,"color":"#f1bf42"},{"offset":0.7001,"color":"#262626"},{"offset":0.7407,"color":"#262626"},{"offset":0.7407,"color":"#f1bf42"},{"offset":0.8853,"color":"#f1bf42"},{"offset":0.8853,"color":"#262626"},{"offset":0.9259,"color":"#262626"},{"offset":0.9259,"color":"#f1bf42"},{"offset":1,"color":"#f1bf42"}]}},
      {"test": "datum.t=='In L3' && datum.e-datum.s<0.064", "value": {"gradient": "linear", "x1": 0, "y1": 0, "x2": 1.205, "y2": 0.556, "stops": [{"offset":0,"color":"#f1bf42"},{"offset":0.1238,"color":"#f1bf42"},{"offset":0.1238,"color":"#262626"},{"offset":0.1587,"color":"#262626"},{"offset":0.1587,"color":"#f1bf42"},{"offset":0.2825,"color":"#f1bf42"},{"offset":0.2825,"color":"#262626"},{"offset":0.3175,"color":"#262626"},{"offset":0.3175,"color":"#f1bf42"},{"offset":0.4412,"color":"#f1bf42"},{"offset":0.4412,"color":"#262626"},{"offset":0.4762,"color":"#262626"},{"offset":0.4762,"color":"#f1bf42"},{"offset":0.5999,"color":"#f1bf42"},{"offset":0.5999,"color":"#262626"},{"offset":0.6349,"color":"#262626"},{"offset":0.6349,"color":"#f1bf42"},{"offset":0.7586,"color":"#f1bf42"},{"offset":0.7586,"color":"#262626"},{"offset":0.7937,"color":"#262626"},{"offset":0.7937,"color":"#f1bf42"},{"offset":0.9173,"color":"#f1bf42"},{"offset":0.9173,"color":"#262626"},{"offset":0.9524,"color":"#262626"},{"offset":0.9524,"color":"#f1bf42"},{"offset":1,"color":"#f1bf42"}]}},
      {"test": "datum.t=='In L3'", "value": {"gradient": "linear", "x1": 0, "y1": 0, "x2": 1.193, "y2": 0.358, "stops": [{"offset":0,"color":"#f1bf42"},{"offset":0.0896,"color":"#f1bf42"},{"offset":0.0896,"color":"#262626"},{"offset":0.1149,"color":"#262626"},{"offset":0.1149,"color":"#f1bf42"},{"offset":0.2045,"color":"#f1bf42"},{"offset":0.2045,"color":"#262626"},{"offset":0.2298,"color":"#262626"},{"offset":0.2298,"color":"#f1bf42"},{"offset":0.3194,"color":"#f1bf42"},{"offset":0.3194,"color":"#262626"},{"offset":0.3447,"color":"#262626"},{"offset":0.3447,"color":"#f1bf42"},{"offset":0.4343,"color":"#f1bf42"},{"offset":0.4343,"color":"#262626"},{"offset":0.4596,"color":"#262626"},{"offset":0.4596,"color":"#f1bf42"},{"offset":0.5492,"color":"#f1bf42"},{"offset":0.5492,"color":"#262626"},{"offset":0.5745,"color":"#262626"},{"offset":0.5745,"color":"#f1bf42"},{"offset":0.6641,"color":"#f1bf42"},{"offset":0.6641,"color":"#262626"},{"offset":0.6894,"color":"#262626"},{"offset":0.6894,"color":"#f1bf42"},{"offset":0.779,"color":"#f1bf42"},{"offset":0.779,"color":"#262626"},{"offset":0.8043,"color":"#262626"},{"offset":0.8043,"color":"#f1bf42"},{"offset":0.8939,"color":"#f1bf42"},{"offset":0.8939,"color":"#262626"},{"offset":0.9192,"color":"#262626"},{"offset":0.9192,"color":"#f1bf42"},{"offset":1,"color":"#f1bf42"}]}}
     ]}
   }},
  {"data": {"name": "ann"}, "transform": [{"filter": "datum.p=='MSG'"}],
   "mark": {"type": "text", "align": "left", "baseline": "top", "dx": 2, "dy": -1, "fontSize": 14.7, "color": "black"},
   "encoding": {"x": {"field": "x", "type": "quantitative", "scale": {"domain": [0,1.08], "nice": false},
      "axis": {"title": null, "values": [0,0.1,0.2,0.3,0.4,0.5,0.6,0.7,0.8,0.9,1.0], "format": ".1f", "tickSize": 5, "labelPadding": 2, "domainWidth": 1, "tickWidth": 1, "labelFlush": false}}, "text": {"field": "n"}}},
  {"data": {"name": "segs"}, "transform": [{"filter": "false"}],
   "mark": {"type": "point", "filled": true, "opacity": 1, "fill": "#808080", "strokeWidth": 1},
   "encoding": {"x": {"field": "s", "type": "quantitative", "scale": {"domain": [0,1.08], "nice": false},
      "axis": {"title": null, "values": [0,0.1,0.2,0.3,0.4,0.5,0.6,0.7,0.8,0.9,1.0], "format": ".1f", "tickSize": 5, "labelPadding": 2, "domainWidth": 1, "tickWidth": 1, "labelFlush": false}},
    "shape": {"field": "t", "type": "nominal",
     "scale": {"domain": ["In Core","Near L3","In L3"], "range": ["M-1,-0.43H1V0.43H-1Z", "M-1,-0.43H1V0.43H-1Z M-1,-0.03L-0.54,0.43 M-1,-0.43L-0.14,0.43 M-0.6,-0.43L0.26,0.43 M-0.2,-0.43L0.66,0.43 M0.2,-0.43L1,0.37 M0.6,-0.43L1,-0.03", "M-1,-0.43H1V0.43H-1Z M-1,0.03L-0.54,-0.43 M-1,0.43L-0.14,-0.43 M-0.6,0.43L0.26,-0.43 M-0.2,0.43L0.66,-0.43 M0.2,0.43L1,-0.37 M0.6,0.43L1,0.03"]},
     "legend": {"title": null, "orient": "bottom-right", "direction": "horizontal", "columns": 3, "symbolSize": 529, "symbolFillColor": "#808080", "symbolStrokeWidth": 1, "labelFontSize": 14.7, "labelColor": "black", "labelOffset": 4, "columnPadding": 10, "offset": 6}},
    "stroke": {"field": "t", "type": "nominal",
     "scale": {"domain": ["In Core","Near L3","In L3"], "range": ["#333333","#333333","#333333"]},
     "legend": {"title": null, "orient": "bottom-right", "direction": "horizontal", "columns": 3, "symbolSize": 529, "symbolFillColor": "#808080", "symbolStrokeWidth": 1, "labelFontSize": 14.7, "labelColor": "black", "labelOffset": 4, "columnPadding": 10, "offset": 6}}}}
 ]
}
]
}
